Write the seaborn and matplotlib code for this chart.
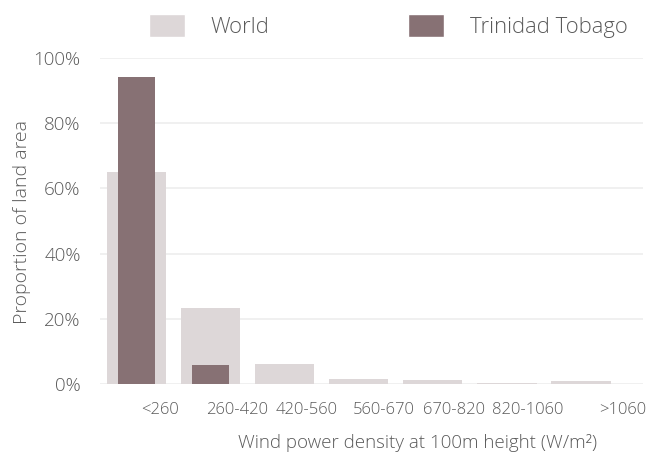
import matplotlib
matplotlib.use("Agg")
import matplotlib.pyplot as plt
import seaborn as sns
from matplotlib.patches import Patch

# data
categories = ["<260", "260-420", "420-560", "560-670", "670-820", "820-1060", ">1060"]
world = [65.0, 23.2, 6.2, 1.6, 1.3, 0.5, 1.1]
trinidad = [94.1, 5.8, 0, 0, 0, 0, 0]
# the tick labels sit a bit to the right of the bars in the original
label_shift = [0.32, 0.36, 0.30, 0.34, 0.28, 0.28, 0.56]

world_color = "#ddd7d8"
tt_color = "#877174"
text_color = "#5a5a5a"

sns.set_theme(style="white")
plt.rcParams["font.family"] = ["Open Sans", "DejaVu Sans"]

fig = plt.figure(figsize=(6.59, 4.59), dpi=100)
ax = fig.add_axes([0.152, 0.163, 0.824, 0.711])

sns.barplot(x=categories, y=world, color=world_color, width=0.8, saturation=1,
            linewidth=0, ax=ax)
sns.barplot(x=categories, y=trinidad, color=tt_color, width=0.5, saturation=1,
            linewidth=0, ax=ax)

ax.set_ylim(0, 100)
ax.set_xlim(-0.49, 6.84)
ax.set_yticks(range(0, 101, 20))
ax.set_yticklabels([f"{v}%" for v in range(0, 101, 20)], fontsize=13.5, color=text_color,
                   fontweight="light")
ax.set_xticks([i + s for i, s in enumerate(label_shift)])
ax.set_xticklabels(categories, fontsize=12, color=text_color, fontweight="light")
ax.tick_params(axis="both", length=0)
ax.tick_params(axis="x", pad=13)
ax.tick_params(axis="y", pad=14)

ax.grid(axis="y", color="#eeeeee", linewidth=1.2)
ax.set_axisbelow(True)
for sp in ax.spines.values():
    sp.set_visible(False)

ax.set_ylabel("Proportion of land area", fontsize=14, color=text_color, fontweight="light")
ax.yaxis.set_label_coords(-0.128, 0.497)
ax.set_xlabel("Wind power density at 100m height (W/m²)", fontsize=13.5, color=text_color,
              fontweight="light")
ax.xaxis.set_label_coords(0.584, -0.18)
ax.xaxis.label.set_va("center")

handles = [Patch(facecolor=world_color, label="World"),
           Patch(facecolor=tt_color, label="Trinidad Tobago")]
leg = fig.legend(handles=handles, loc="center left", bbox_to_anchor=(0.2125, 0.944), ncol=2,
                 frameon=False, fontsize=15.8, handlelength=1.64, handleheight=1.23,
                 handletextpad=1.19, columnspacing=6.3, borderaxespad=0)
for t in leg.get_texts():
    t.set_color(text_color)
    t.set_fontweight("light")

fig.savefig("out.png", dpi=100)
